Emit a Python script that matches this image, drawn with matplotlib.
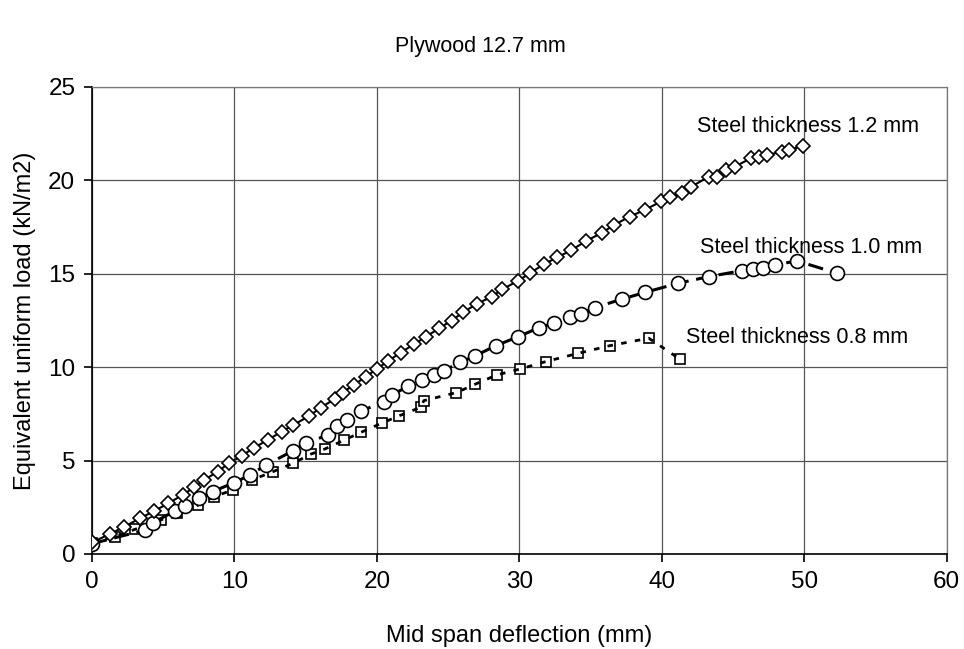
import matplotlib
matplotlib.use("Agg")
import matplotlib.pyplot as plt

plt.rcParams['font.family'] = ['Liberation Sans', 'DejaVu Sans']

# steel thickness 1.2 mm (diamonds)
x_12 = [0.0, 1.26, 2.27, 3.37, 4.37, 5.36, 6.36, 7.18, 7.88, 8.82, 9.61, 10.5, 11.39, 12.33,
        13.31, 14.13, 15.25, 16.05, 17.05, 17.59, 18.39, 19.23, 19.98, 20.8, 21.66, 22.6,
        23.44, 24.37, 25.24, 26.06, 27.0, 28.05, 28.82, 29.92, 30.74, 31.72, 32.68, 33.66,
        34.71, 35.81, 36.65, 37.75, 38.81, 39.98, 40.56, 41.45, 42.08, 43.3, 43.88, 44.49,
        45.12, 46.25, 46.8, 47.39, 48.44, 48.91, 49.92]
y_12 = [0.62, 1.07, 1.46, 1.91, 2.30, 2.71, 3.16, 3.57, 3.96, 4.41, 4.85, 5.25, 5.69, 6.1,
        6.55, 6.9, 7.39, 7.83, 8.3, 8.64, 9.05, 9.49, 9.9, 10.33, 10.78, 11.22,
        11.63, 12.08, 12.49, 12.94, 13.38, 13.77, 14.17, 14.63, 15.03, 15.51, 15.88, 16.27,
        16.76, 17.2, 17.61, 18.06, 18.42, 18.88, 19.1, 19.35, 19.66, 20.2, 20.2, 20.56,
        20.73, 21.18, 21.23, 21.36, 21.53, 21.63, 21.84]

# steel thickness 1.0 mm (circles)
x_10 = [0.0, 3.72, 4.3, 5.82, 6.53, 7.53, 8.47, 9.99, 11.09, 12.21, 14.13, 15.06, 16.59,
        17.17, 17.87, 18.92, 20.49, 21.07, 22.2, 23.2, 24.02, 24.7, 25.83, 26.88, 28.35,
        29.92, 31.37, 32.44, 33.54, 34.32, 35.3, 37.24, 38.81, 41.14, 43.32, 45.64, 46.41,
        47.11, 47.93, 49.49, 52.3]
y_10 = [0.55, 1.28, 1.68, 2.3, 2.57, 2.98, 3.34, 3.82, 4.23, 4.76, 5.53, 5.96, 6.37,
        6.85, 7.17, 7.66, 8.15, 8.51, 8.99, 9.31, 9.58, 9.81, 10.26, 10.6, 11.15,
        11.63, 12.11, 12.35, 12.7, 12.85, 13.19, 13.65, 14.0, 14.49, 14.85, 15.17, 15.24,
        15.33, 15.47, 15.69, 15.03]

# steel thickness 0.8 mm (squares)
x_08 = [0.0, 1.61, 3.02, 4.84, 5.94, 7.46, 8.56, 9.92, 11.21, 12.72, 14.1, 15.35, 16.35,
        17.71, 18.88, 20.33, 21.54, 23.07, 23.3, 25.59, 26.88, 28.4, 30.04, 31.86, 34.13,
        36.35, 39.09, 41.26]
y_08 = [0.6, 0.93, 1.32, 1.82, 2.18, 2.62, 3.07, 3.43, 3.96, 4.41, 4.85, 5.34, 5.62,
        6.1, 6.51, 7.0, 7.39, 7.85, 8.21, 8.64, 9.08, 9.58, 9.9, 10.3, 10.74,
        11.15, 11.55, 10.44]

labels = ["Steel thickness 1.2 mm", "Steel thickness 1.0 mm", "Steel thickness 0.8 mm"]
label_pos = [(42.5, 22.9), (42.7, 16.4), (41.7, 11.6)]

fig = plt.figure(figsize=(9.64, 6.49), dpi=100)
ax = fig.add_axes([0.0954, 0.1464, 0.8866, 0.7196])

# squares: markers first, dashed line over them like the original
ax.plot(x_08, y_08, linestyle='none', marker='s', ms=7.5,
        mfc='white', mec='black', mew=1.2, zorder=3)
ax.plot(x_08, y_08, color='black', lw=2, linestyle=(0, (2, 3)), zorder=3.5)
ax.plot(x_10, y_10, color='black', lw=2.2, linestyle=(0, (5, 2.5)), marker='o', ms=10,
        mfc='white', mec='black', mew=1.2, zorder=4)
ax.plot(x_12, y_12, color='black', lw=1.5, linestyle='-', marker='D', ms=7.5,
        mfc='white', mec='black', mew=1.2, zorder=5)

for lab, (tx, ty) in zip(labels, label_pos):
    ax.text(tx, ty, lab, fontsize=15.5, va='center', ha='left', zorder=6)

ax.set_xlim(0, 60)
ax.set_ylim(0, 25)
ax.set_xticks(range(0, 61, 10))
ax.set_yticks(range(0, 26, 5))
ax.grid(True, color='#555555', lw=0.9)
ax.set_axisbelow(True)
for s in ['top', 'right']:
    ax.spines[s].set_color('#777777')
    ax.spines[s].set_linewidth(0.9)
for s in ['left', 'bottom']:
    ax.spines[s].set_color('black')
    ax.spines[s].set_linewidth(1.2)
ax.tick_params(direction='out', length=6, width=1.2, labelsize=17.5, pad=6)

ax.set_xlabel("Mid span deflection (mm)", fontsize=17, labelpad=23)
ax.set_ylabel("Equivalent uniform load (kN/m2)", fontsize=17, labelpad=9)
fig.text(0.498, 0.928, "Plywood 12.7 mm", fontsize=15.5, ha='center', va='center')

fig.savefig("out.png", dpi=100)
